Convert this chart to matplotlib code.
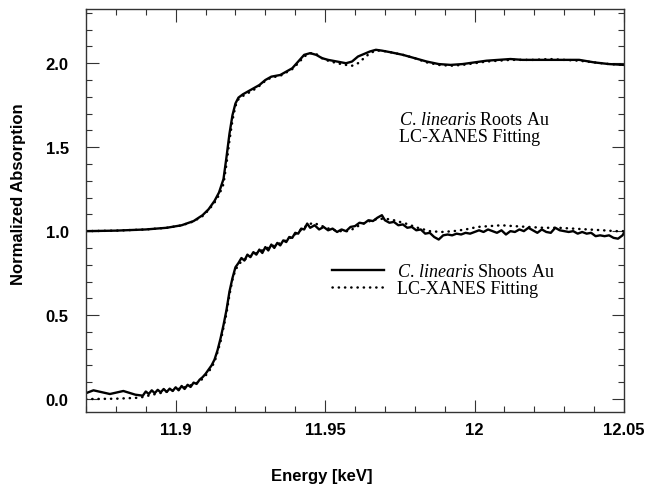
import numpy as np
import matplotlib.pyplot as plt
from matplotlib.ticker import MultipleLocator

plt.rcParams["font.family"] = "Liberation Sans"
plt.rcParams["mathtext.fontset"] = "custom"
plt.rcParams["mathtext.it"] = "Liberation Serif:italic"
plt.rcParams["mathtext.rm"] = "Liberation Serif"

# Roots Au (spectrum offset by +1)
roots_energy = [11.870, 11.880, 11.890, 11.897, 11.902, 11.906, 11.909, 11.911, 11.913, 11.9145,
                11.916, 11.917, 11.918, 11.919, 11.920, 11.921, 11.9225, 11.924, 11.926, 11.928,
                11.930, 11.932, 11.935, 11.937, 11.939, 11.941, 11.943, 11.945, 11.947, 11.949,
                11.951, 11.954, 11.957, 11.959, 11.961, 11.963, 11.965, 11.967, 11.969, 11.972,
                11.976, 11.980, 11.984, 11.988, 11.992, 11.996, 12.000, 12.004, 12.008, 12.012,
                12.016, 12.020, 12.025, 12.030, 12.035, 12.040, 12.045, 12.050]
roots_data = [1.000, 1.003, 1.010, 1.020, 1.035, 1.060, 1.095, 1.130, 1.180, 1.230,
              1.310, 1.440, 1.580, 1.690, 1.760, 1.795, 1.815, 1.830, 1.850, 1.870,
              1.900, 1.920, 1.930, 1.950, 1.970, 2.010, 2.050, 2.060, 2.050, 2.030,
              2.020, 2.010, 2.000, 2.010, 2.040, 2.055, 2.070, 2.080, 2.075, 2.065,
              2.050, 2.030, 2.010, 1.995, 1.990, 1.995, 2.005, 2.015, 2.020, 2.025,
              2.020, 2.020, 2.020, 2.020, 2.020, 2.005, 1.995, 1.990]
roots_fit = [1.000, 1.003, 1.010, 1.020, 1.034, 1.058, 1.090, 1.125, 1.170, 1.215,
             1.280, 1.400, 1.540, 1.660, 1.745, 1.785, 1.805, 1.820, 1.840, 1.865,
             1.895, 1.915, 1.925, 1.945, 1.965, 2.000, 2.040, 2.060, 2.055, 2.030,
             2.015, 2.000, 1.990, 1.985, 2.000, 2.030, 2.060, 2.075, 2.075, 2.065,
             2.050, 2.030, 2.005, 1.990, 1.985, 1.990, 2.000, 2.010, 2.015, 2.020,
             2.020, 2.020, 2.025, 2.020, 2.015, 2.005, 1.995, 1.990]

# Shoots Au
shoots_energy = [11.8700, 11.8725, 11.8780, 11.8825, 11.8865,
                 11.889, 11.890, 11.891, 11.892, 11.893, 11.894, 11.895, 11.896, 11.897, 11.898,
                 11.899, 11.900, 11.901, 11.902, 11.903, 11.904, 11.905, 11.906, 11.907, 11.908,
                 11.909, 11.910, 11.911, 11.912, 11.913, 11.914, 11.915, 11.916, 11.917, 11.918,
                 11.919, 11.920, 11.921, 11.922, 11.923, 11.924, 11.925, 11.926, 11.927, 11.928,
                 11.929, 11.930, 11.931, 11.932, 11.933, 11.934, 11.935, 11.936, 11.937, 11.938,
                 11.939, 11.940, 11.941, 11.942, 11.943, 11.944, 11.945,
                 11.9465, 11.9480, 11.9495, 11.9510, 11.9525, 11.9540, 11.9555, 11.9570, 11.9585, 11.9600,
                 11.9615, 11.9630, 11.9645, 11.9660, 11.9675, 11.9690, 11.9700, 11.9715, 11.9730, 11.9745,
                 11.9760, 11.9775, 11.9790, 11.9805, 11.9820, 11.9835, 11.9850, 11.9865, 11.9880, 11.9895,
                 11.9910, 11.9925, 11.9940, 11.9955, 11.9970, 11.9985, 12.0000, 12.0015, 12.0030, 12.0045,
                 12.0060, 12.0075, 12.0090, 12.0105, 12.0120, 12.0135, 12.0150, 12.0165, 12.0180, 12.0195,
                 12.0210, 12.0225, 12.0240, 12.0255, 12.0270, 12.0285, 12.0300, 12.0315, 12.0330, 12.0345,
                 12.0360, 12.0375, 12.0390, 12.0405, 12.0420, 12.0435, 12.0450, 12.0465, 12.0480, 12.0495,
                 12.0500]
shoots_data = [0.035, 0.052, 0.030, 0.048, 0.026,
               0.020, 0.045, 0.030, 0.052, 0.035, 0.055, 0.040, 0.060, 0.042, 0.062,
               0.048, 0.070, 0.052, 0.078, 0.060, 0.085, 0.072, 0.098, 0.090, 0.115,
               0.130, 0.150, 0.175, 0.200, 0.235, 0.290, 0.360, 0.440, 0.530, 0.640,
               0.720, 0.785, 0.810, 0.840, 0.825, 0.860, 0.845, 0.875, 0.860, 0.890,
               0.870, 0.905, 0.885, 0.920, 0.900, 0.930, 0.915, 0.945, 0.935, 0.965,
               0.960, 0.990, 0.985, 1.015, 1.010, 1.045, 1.020,
               1.035, 1.010, 1.025, 1.005, 1.015, 0.995, 1.010, 1.000, 1.025, 1.030,
               1.050, 1.045, 1.065, 1.060, 1.080, 1.095, 1.065, 1.050, 1.055, 1.035,
               1.040, 1.020, 1.025, 1.005, 1.010, 0.985, 0.990, 0.965, 0.950, 0.975,
               0.980, 0.975, 0.985, 0.980, 0.990, 0.985, 0.995, 1.005, 0.995, 1.010,
               1.000, 0.990, 1.005, 0.980, 1.000, 0.995, 1.010, 1.000, 1.020, 1.005,
               0.990, 1.010, 0.995, 0.990, 1.020, 1.005, 1.000, 0.995, 1.000, 0.985,
               0.995, 0.985, 0.990, 0.970, 0.975, 0.970, 0.975, 0.960, 0.955, 0.975,
               0.990]

shoots_fit_energy = [11.870, 11.880, 11.888, 11.892, 11.896, 11.900, 11.904, 11.907, 11.909, 11.911,
                     11.913, 11.915, 11.917, 11.918, 11.919, 11.920, 11.9215, 11.923, 11.926, 11.930,
                     11.934, 11.938, 11.941, 11.944, 11.946, 11.949, 11.952, 11.955, 11.958, 11.961,
                     11.964, 11.967, 11.970, 11.973, 11.977, 11.981, 11.985, 11.989, 11.993, 11.997,
                     12.001, 12.005, 12.009, 12.013, 12.018, 12.023, 12.028, 12.033, 12.038, 12.043,
                     12.047, 12.050]
shoots_fit = [0.000, 0.002, 0.008, 0.025, 0.040, 0.055, 0.075, 0.095, 0.120, 0.160,
              0.220, 0.340, 0.510, 0.620, 0.710, 0.770, 0.810, 0.830, 0.860, 0.895,
              0.920, 0.955, 0.995, 1.035, 1.050, 1.030, 1.010, 1.000, 1.000, 1.030,
              1.055, 1.070, 1.075, 1.065, 1.045, 1.020, 1.000, 0.995, 1.000, 1.010,
              1.025, 1.030, 1.035, 1.030, 1.025, 1.020, 1.020, 1.015, 1.010, 1.005,
              1.000, 1.000]

fig = plt.figure(figsize=(6.49, 4.85), dpi=100)
ax = fig.add_axes([0.1325, 0.1485, 0.829, 0.8309])

solid = dict(color="black", lw=1.7, solid_joinstyle="round")
dotted = dict(color="black", lw=1.8, linestyle=(0, (0.1, 2.4)), dash_capstyle="round")

ax.plot(roots_energy, roots_data, **solid)
ax.plot(roots_energy, roots_fit, **dotted)
ax.plot(shoots_energy, shoots_data, label=r"$\it{C.\,linearis}$ Shoots Au", **solid)
ax.plot(shoots_fit_energy, shoots_fit, label="LC-XANES Fitting", **dotted)

ax.set_xlim(11.87, 12.05)
ax.set_ylim(-0.077, 2.323)
ax.xaxis.set_major_locator(MultipleLocator(0.05))
ax.xaxis.set_minor_locator(MultipleLocator(0.01))
ax.yaxis.set_major_locator(MultipleLocator(0.5))
ax.yaxis.set_minor_locator(MultipleLocator(0.1))
ax.set_xticks([11.9, 11.95, 12.0, 12.05])
ax.set_xticklabels(["11.9", "11.95", "12", "12.05"])
ax.set_yticks([0, 0.5, 1.0, 1.5, 2.0])
ax.set_yticklabels(["0.0", "0.5", "1.0", "1.5", "2.0"])

ax.tick_params(which="both", direction="in", top=True, right=True, width=0.8, color="#333333")
ax.tick_params(which="major", length=9)
ax.tick_params(which="minor", length=4.3)
ax.tick_params(axis="x", pad=7.4)
ax.tick_params(axis="y", pad=12.5)
for lab in ax.get_xticklabels() + ax.get_yticklabels():
    lab.set_fontweight("bold")
    lab.set_fontsize(12)
for sp in ax.spines.values():
    sp.set_color("#333333")
    sp.set_linewidth(1.0)

ax.set_xlabel("Energy [keV]", fontsize=12, fontweight="bold", va="top")
ax.xaxis.set_label_coords(0.438, -0.139)
ax.set_ylabel("Normalized Absorption", fontsize=12, fontweight="bold")
ax.yaxis.set_label_coords(-0.111, 0.543)

ax.text(0.582, 0.7146, r"$\it{C.\,linearis}$ Roots Au", transform=ax.transAxes,
        fontsize=13, family="Liberation Serif", va="baseline")
ax.text(0.582, 0.673, "LC-XANES Fitting", transform=ax.transAxes,
        fontsize=13, family="Liberation Serif", va="baseline")

ax.legend(loc="upper left", bbox_to_anchor=(0.457, 0.37), frameon=False,
          prop={"family": "Liberation Serif", "size": 13}, handlelength=2.9,
          handletextpad=0.7, labelspacing=0.0, borderpad=0, borderaxespad=0)

fig.savefig("out.png", dpi=100)
